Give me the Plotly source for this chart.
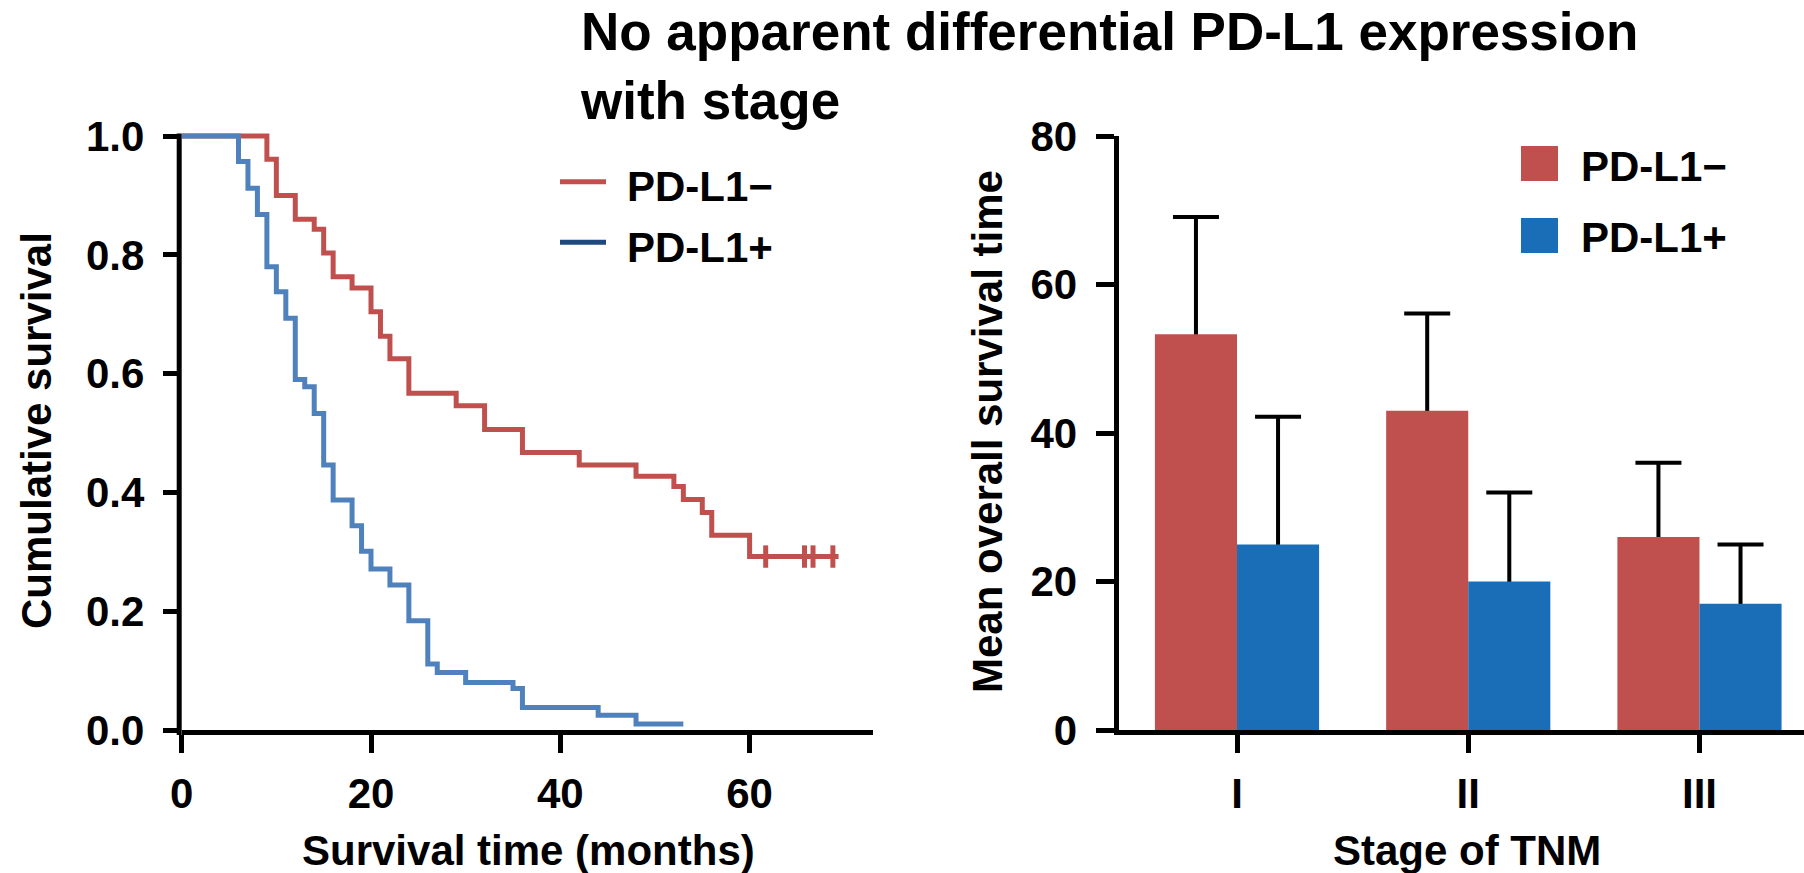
import plotly.graph_objects as go

W, H = 1804, 873

# ---------------- data ----------------
# Kaplan-Meier, PD-L1 negative
neg_times = [0, 9, 10, 12, 14, 15, 16, 18, 20, 21, 22, 24, 29, 32, 36, 42, 48, 52, 53, 55, 56, 60, 69.4]
neg_surv = [1.0, 0.961, 0.900, 0.860, 0.843, 0.803, 0.763, 0.744, 0.704, 0.663, 0.625, 0.567,
            0.546, 0.506, 0.467, 0.446, 0.427, 0.410, 0.388, 0.366, 0.328, 0.292, 0.292]
neg_censor_times = [61.7, 65.8, 66.7, 68.8]
neg_censor_surv = [0.292, 0.292, 0.292, 0.292]

# Kaplan-Meier, PD-L1 positive
pos_times = [0, 6, 7, 8, 9, 10, 11, 12, 13, 14, 15, 16, 18, 19, 20, 22, 24, 26, 27, 30, 35, 36, 44, 48, 53]
pos_surv = [1.0, 0.957, 0.912, 0.868, 0.780, 0.738, 0.693, 0.590, 0.578, 0.533, 0.446, 0.387, 0.344,
            0.301, 0.271, 0.244, 0.184, 0.111, 0.097, 0.080, 0.070, 0.038, 0.025, 0.010, 0.010]

# Bar chart (mean overall survival, upper error only)
stages = ["I", "II", "III"]
neg_mean = [53.3, 43.0, 26.0]
neg_err = [15.8, 13.1, 10.0]
pos_mean = [25.0, 20.0, 17.0]
pos_err = [17.2, 12.0, 8.0]
hidden_shoe = [0.4, 0.4, 0.4]   # lower end tucked inside the bar so it is covered

km_xticks = [0, 20, 40, 60]
km_yticks = [0, 0.2, 0.4, 0.6, 0.8, 1.0]
bar_yticks = [0, 20, 40, 60, 80]

labels = ["PD-L1\u2212", "PD-L1+"]
title_text = "No apparent differential PD-L1 expression<br>with stage"

# ---------------- style ----------------
RED_LINE = "#c0504d"
BLUE_LINE = "#4f81bd"
BLUE_LEG = "#1f497d"
RED_BAR = "#c0504d"
BLUE_BAR = "#1a6eb7"
FAM = "Liberation Sans"


def px(x):
    return x / W


def py(y):
    return 1 - y / H


def font(size):
    return dict(family=FAM, size=size, color="black", weight="bold")


# pixel geometry
KM_X0, KM_PPU = 181.7, 9.465      # x=0 pixel, px per month
Y0_PX, Y1_PX = 730.0, 136.0       # y=0 and y=top pixel
KM_XMAX = 73
KM_YMAX = 1.01
km_top_px = Y1_PX - (KM_YMAX - 1.0) * (Y0_PX - Y1_PX)
BAR_X0 = 1118.5

TICK = font(42)
AX = dict(ticks="outside", ticklen=18, tickwidth=5, tickcolor="black", automargin=False,
          showgrid=False, zeroline=False, tickfont=TICK)

fig = go.Figure()

fig.add_trace(go.Scatter(x=neg_times, y=neg_surv, mode="lines", line=dict(color=RED_LINE, width=5, shape="hv"),
                         xaxis="x", yaxis="y", showlegend=False, name=labels[0]))
fig.add_trace(go.Scatter(x=pos_times, y=pos_surv, mode="lines", line=dict(color=BLUE_LINE, width=5, shape="hv"),
                         xaxis="x", yaxis="y", showlegend=False, name=labels[1]))
fig.add_trace(go.Scatter(x=neg_censor_times, y=neg_censor_surv, mode="markers",
                         marker=dict(symbol="line-ns", size=16, line=dict(color=RED_LINE, width=5)),
                         xaxis="x", yaxis="y", showlegend=False, cliponaxis=False))

# error bars carried by transparent bars drawn first; the visible bars drawn later hide the lower caps
for mean, err, grp in [(neg_mean, neg_err, "neg"), (pos_mean, pos_err, "pos")]:
    fig.add_trace(go.Bar(x=stages, y=mean, offsetgroup=grp, marker=dict(color="rgba(0,0,0,0)", line=dict(width=0)),
                         error_y=dict(type="data", array=err, arrayminus=hidden_shoe, symmetric=False,
                                      color="black", thickness=4, width=23),
                         xaxis="x2", yaxis="y2", showlegend=False, hoverinfo="skip"))
fig.add_trace(go.Bar(x=stages, y=neg_mean, offsetgroup="neg", marker=dict(color=RED_BAR, line=dict(width=0)),
                     name=labels[0], xaxis="x2", yaxis="y2", showlegend=False))
fig.add_trace(go.Bar(x=stages, y=pos_mean, offsetgroup="pos", marker=dict(color=BLUE_BAR, line=dict(width=0)),
                     name=labels[1], xaxis="x2", yaxis="y2", showlegend=False))

fig.update_layout(
    width=W, height=H,
    margin=dict(l=0, r=0, t=0, b=0, autoexpand=False),
    paper_bgcolor="white", plot_bgcolor="white",
    barmode="group", bargap=0.29, bargroupgap=0,
    xaxis=dict(domain=[px(KM_X0), px(KM_X0 + KM_XMAX * KM_PPU)], range=[0, KM_XMAX], tickvals=km_xticks,
               showline=True, linewidth=5, linecolor="black", anchor="y", ticklabelstandoff=5, **AX),
    yaxis=dict(domain=[py(Y0_PX), py(km_top_px)], range=[0, KM_YMAX], tickvals=km_yticks, tickformat=".1f",
               showline=False, anchor="x", ticklabelstandoff=10, **AX),
    xaxis2=dict(domain=[px(BAR_X0), 1.0], range=[-0.5125, 2.452], type="category",
                showline=True, linewidth=5, linecolor="black", anchor="y2", ticklabelstandoff=5, **AX),
    yaxis2=dict(domain=[py(Y0_PX), py(Y1_PX)], range=[0, 80], tickvals=bar_yticks,
                showline=True, linewidth=5, linecolor="black", anchor="x2", ticklabelstandoff=10, **AX),
)

shapes = []
# left y-axis line (drawn so that it stops at 1.0)
shapes.append(dict(type="line", xref="paper", yref="paper",
                   x0=px(KM_X0 - 2.5), x1=px(KM_X0 - 2.5), y0=py(Y0_PX + 5), y1=py(Y1_PX - 2.5),
                   line=dict(color="black", width=5)))
# left legend lines
shapes.append(dict(type="line", xref="paper", yref="paper", x0=px(560), x1=px(606), y0=py(181.7), y1=py(181.7),
                   line=dict(color=RED_LINE, width=5)))
shapes.append(dict(type="line", xref="paper", yref="paper", x0=px(560), x1=px(606), y0=py(242.3), y1=py(242.3),
                   line=dict(color=BLUE_LEG, width=5)))
# right legend squares
shapes.append(dict(type="rect", xref="paper", yref="paper", x0=px(1521), x1=px(1558), y0=py(146), y1=py(181),
                   fillcolor=RED_BAR, line=dict(width=0)))
shapes.append(dict(type="rect", xref="paper", yref="paper", x0=px(1521), x1=px(1558), y0=py(218), y1=py(253),
                   fillcolor=BLUE_BAR, line=dict(width=0)))
fig.update_layout(shapes=shapes)

ann = []
ann.append(dict(text=title_text, x=px(578), y=py(0), xanchor="left", yanchor="top", align="left", font=font(53)))
ann.append(dict(text=labels[0], x=px(625), y=py(186), xanchor="left", yanchor="middle"))
ann.append(dict(text=labels[1], x=px(625), y=py(247), xanchor="left", yanchor="middle"))
ann.append(dict(text=labels[0], x=px(1579), y=py(166), xanchor="left", yanchor="middle"))
ann.append(dict(text=labels[1], x=px(1579), y=py(238), xanchor="left", yanchor="middle"))
ann.append(dict(text="Cumulative survival", x=px(36), y=py(431), xanchor="center", yanchor="middle", textangle=-90))
ann.append(dict(text="Survival time (months)", x=px(528), y=py(850), xanchor="center", yanchor="middle"))
ann.append(dict(text="Mean overall survival time", x=px(987), y=py(432), xanchor="center", yanchor="middle",
                textangle=-90))
ann.append(dict(text="Stage of TNM", x=px(1467), y=py(850), xanchor="center", yanchor="middle"))
for a in ann:
    a.update(xref="paper", yref="paper", showarrow=False)
    a.setdefault("font", font(42))
fig.update_layout(annotations=ann)

fig.write_html("out.html")
